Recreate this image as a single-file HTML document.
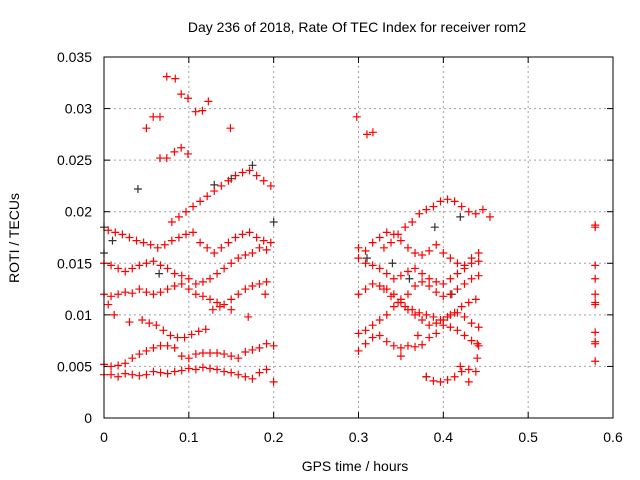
<!DOCTYPE html>
<html><head><meta charset="utf-8"><style>
html,body{margin:0;padding:0;background:#fff;}
svg{display:block;font-family:"Liberation Sans",sans-serif;}
</style></head><body>
<svg id="chart" width="640" height="480">
<text x="357" y="32" font-size="14" text-anchor="middle">Day 236 of 2018, Rate Of TEC Index for receiver rom2</text>
<text x="355" y="471" font-size="14" text-anchor="middle">GPS time / hours</text>
<text x="19" y="238" font-size="14" text-anchor="middle" transform="rotate(-90 19 238)">ROTI / TECUs</text>
<g id="grid"></g><g id="ticks"></g><g id="marks"></g>
<rect x="104" y="57" width="509" height="361" fill="none" stroke="#000" stroke-width="1"/>
</svg>
<script>
const xTicks=[0,0.1,0.2,0.3,0.4,0.5,0.6];
const xTickLabels=["0","0.1","0.2","0.3","0.4","0.5","0.6"];
const yTicks=[0,0.005,0.01,0.015,0.02,0.025,0.03,0.035];
const yTickLabels=["0","0.005","0.01","0.015","0.02","0.025","0.03","0.035"];
const sampleStep=0.00833;
// tracks: start time (hours) and ROTI values
const trackStarts=[0,0,0.045,0,0,0.005,0.08,0.30,0.30,0.30,0.30,0.30,0.33,0.33,0.38];
const trackValues=[
[0.0042,0.0042,0.0040,0.0043,0.0042,0.0041,0.0042,0.0045,0.0044,0.0043,0.0045,0.0046,0.0048,0.0047,0.0049,0.0048,0.0047,0.0045,0.0044,0.0042,0.0040,0.0038,0.0044,0.0047,0.0035],
[0.0052,0.0050,0.0051,0.0053,0.0058,0.0062,0.0065,0.0068,0.0070,0.0070,0.0068,0.0060,0.0058,0.0062,0.0063,0.0063,0.0063,0.0062,0.0060,0.0058,0.0064,0.0066,0.0068,0.0072,0.0070],
[0.0095,0.0092,0.0090,0.0085,0.0080,0.0078,0.0078,0.0081,0.0084,0.0086,0.0105,0.0108],
[0.0120,0.0118,0.0120,0.0122,0.0121,0.0125,0.0122,0.0120,0.0122,0.0125,0.0128,0.0130,0.0125,0.0120,0.0118,0.0115,0.0112,0.0110,0.0115,0.0120,0.0125,0.0128,0.0130,0.0132],
[0.0150,0.0148,0.0145,0.0142,0.0145,0.0148,0.0150,0.0152,0.0148,0.0145,0.0140,0.0138,0.0135,0.0130,0.0132,0.0135,0.0140,0.0145,0.0150,0.0155,0.0158,0.0160,0.0165,0.0163],
[0.0182,0.0180,0.0178,0.0175,0.0172,0.0170,0.0168,0.0165,0.0168,0.0172,0.0175,0.0178,0.0180,0.0170,0.0165,0.0160,0.0165,0.0170,0.0175,0.0178,0.0180,0.0175,0.0172,0.0170],
[0.0190,0.0195,0.0200,0.0205,0.0210,0.0215,0.0220,0.0225,0.0230,0.0235,0.0238,0.0240,0.0235,0.0230,0.0225],
[0.0065,0.0072,0.0078,0.0080,0.0074,0.0070,0.0068,0.0070,0.0069,0.0071,0.0078,0.0082,0.0090,0.0088,0.0085,0.0080,0.0075,0.0070],
[0.0082,0.0085,0.0090,0.0095,0.0100,0.0108,0.0112,0.0105,0.0100,0.0095,0.0090,0.0092,0.0095,0.0100,0.0102,0.0098,0.0092,0.0088],
[0.0120,0.0125,0.0130,0.0128,0.0125,0.0120,0.0115,0.0120,0.0128,0.0132,0.0128,0.0122,0.0118,0.0120,0.0125,0.0130,0.0135,0.0138],
[0.0155,0.0150,0.0148,0.0145,0.0140,0.0135,0.0138,0.0142,0.0145,0.0140,0.0135,0.0132,0.0130,0.0135,0.0140,0.0145,0.0150,0.0152],
[0.0165,0.0162,0.0170,0.0175,0.0180,0.0178,0.0172,0.0165,0.0160,0.0158,0.0162,0.0168,0.0160,0.0155,0.0150,0.0148,0.0155,0.0160],
[0.0165,0.0170,0.0178,0.0185,0.0190,0.0198,0.0202,0.0205,0.0210,0.0212,0.0210,0.0205,0.0200,0.0198,0.0202,0.0195],
[0.0125,0.0118,0.0112,0.0108,0.0105,0.0102,0.0100,0.0098,0.0095,0.0098,0.0102,0.0108,0.0112,0.0115],
[0.0040,0.0036,0.0035,0.0037,0.0040,0.0045,0.0047,0.0045]];
const extraX=[0.074,0.084,0.091,0.099,0.123,0.108,0.116,0.058,0.066,0.050,0.149,0.083,0.091,0.099,0.066,0.074,0.298,0.310,0.317,0.579,0.579,0.579,0.579,0.579,0.579,0.579,0.579,0.579,0.579,0.579,0.440,0.440,0.430,0.420,0.005,0.012,0.030,0.150,0.170,0.190,0.350,0.370];
const extraY=[0.0331,0.0329,0.0314,0.0310,0.0307,0.0297,0.0298,0.0292,0.0292,0.0281,0.0281,0.0258,0.0262,0.0256,0.0252,0.0252,0.0292,0.0275,0.0277,0.0187,0.0185,0.0148,0.0135,0.0120,0.0112,0.0110,0.0083,0.0074,0.0072,0.0055,0.0058,0.0072,0.0035,0.0050,0.0110,0.0100,0.0093,0.0105,0.0098,0.0120,0.0060,0.0080];
const darkX=[0.0,0.0,0.010,0.175,0.390,0.360,0.380,0.040,0.130,0.150,0.340,0.420,0.065,0.200,0.310,0.410];
const darkY=[0.0185,0.0160,0.0172,0.0245,0.0185,0.0135,0.0040,0.0222,0.0226,0.0232,0.0150,0.0195,0.0140,0.0190,0.0155,0.0120];
const NS="http://www.w3.org/2000/svg";
const X0=104,X1=613,Y0=418,Y1=57;
function sx(v){return X0+(v-0)/0.6*(X1-X0);}
function sy(v){return Y0-(v-0)/0.035*(Y0-Y1);}
const grid=document.getElementById('grid'),ticks=document.getElementById('ticks'),marks=document.getElementById('marks');
function mk(tag,attrs,parent){const e=document.createElementNS(NS,tag);for(const k in attrs)e.setAttribute(k,attrs[k]);parent.appendChild(e);return e;}
xTicks.forEach((t,i)=>{const x=sx(t);
 if(i>0&&i<xTicks.length-1){const g=mk('line',{x1:x,y1:Y0,x2:x,y2:Y1,stroke:'#a0a0a0','stroke-dasharray':'2,3'},grid);
 
 }
 mk('line',{x1:x,y1:Y0,x2:x,y2:Y0-6,stroke:'#000'},ticks);mk('line',{x1:x,y1:Y1,x2:x,y2:Y1+6,stroke:'#000'},ticks);
 const l=mk('text',{x:x,y:442,'font-size':14,'text-anchor':'middle'},ticks);l.textContent=xTickLabels[i];
 
 });
yTicks.forEach((t,i)=>{const y=sy(t);
 if(i>0&&i<yTicks.length-1){const g=mk('line',{x1:X0,y1:y,x2:X1,y2:y,stroke:'#a0a0a0','stroke-dasharray':'2,3'},grid);
 
 }
 mk('line',{x1:X0,y1:y,x2:X0+6,y2:y,stroke:'#000'},ticks);mk('line',{x1:X1,y1:y,x2:X1-6,y2:y,stroke:'#000'},ticks);
 const l=mk('text',{x:92,y:y+5,'font-size':14,'text-anchor':'end'},ticks);l.textContent=yTickLabels[i];
 
 });
function plus(xv,yv,color,name){const x=sx(xv),y=sy(yv);
 const p=mk('path',{d:`M${x-4},${y}H${x+4}M${x},${y-4}V${y+4}`,stroke:color,'stroke-width':1.2,fill:'none'},marks);
 
 }
darkX.forEach((v,i)=>plus(v,darkY[i],'#333','roti-point-dark'));
trackValues.forEach((arr,t)=>arr.forEach((v,i)=>plus(trackStarts[t]+i*sampleStep,v,'#ff0000','roti-point')));
extraX.forEach((v,i)=>plus(v,extraY[i],'#ff0000','roti-point'));
</script>
</body></html>
